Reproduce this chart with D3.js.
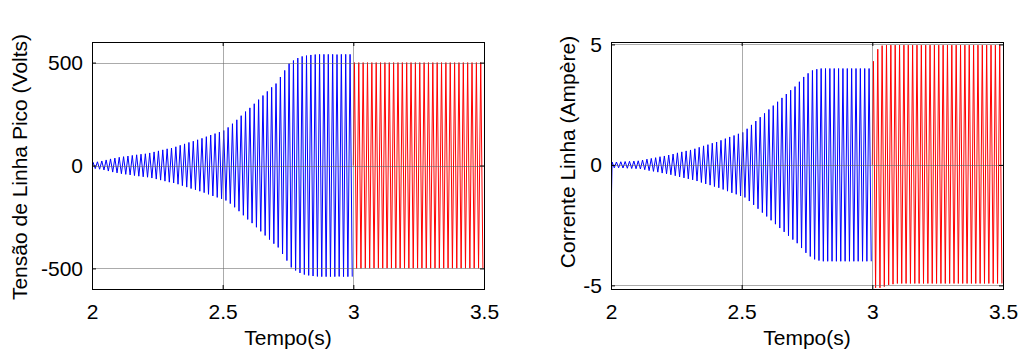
<!DOCTYPE html>
<html>
<head>
<meta charset="utf-8">
<script src="https://cdn.jsdelivr.net/npm/d3@7"></script>
<style>
  body { margin: 0; background: #fff; }
  svg text { font-family: "Liberation Sans", Arial, sans-serif; font-size: 21px; fill: #000; }
</style>
</head>
<body>
<svg id="chart" width="1019" height="353"></svg>
<script>
// peak amplitude of every 60 Hz cycle
const voltsBlue = [15, 18, 22, 27, 32, 36, 40, 43, 46, 49, 52, 55,
  57, 61, 66, 71, 76, 81, 85, 91, 98, 105, 112, 118,
  125, 132, 140, 148, 155, 162, 170, 185, 203, 222, 242, 262,
  280, 300, 320, 340, 360, 380, 398, 430, 462, 495, 510, 522,
  530, 534, 537, 539, 540, 540, 540, 540, 539, 540, 540, 540];
const voltsRedPos = [500, 500, 500, 500, 500, 500, 500, 500, 500, 500,
  500, 500, 500, 500, 500, 500, 500, 500, 500, 500,
  500, 500, 500, 500, 500, 500, 500, 500, 500, 500];
const voltsRedNeg = [500, 500, 499, 499, 499, 499, 499, 499, 499, 499,
  499, 499, 499, 499, 499, 499, 499, 499, 499, 499,
  499, 499, 499, 499, 499, 499, 499, 499, 499, 499];
const voltsStart = [12, -12];

const ampsBlue = [0.12, 0.12, 0.13, 0.14, 0.15, 0.16, 0.17, 0.2, 0.24, 0.27, 0.3, 0.34,
  0.37, 0.41, 0.45, 0.5, 0.54, 0.58, 0.62, 0.67, 0.73, 0.79, 0.84, 0.9,
  0.95, 1.02, 1.09, 1.16, 1.22, 1.29, 1.35, 1.5, 1.66, 1.82, 1.98, 2.14,
  2.3, 2.46, 2.62, 2.78, 2.94, 3.1, 3.25, 3.45, 3.65, 3.8, 3.92, 3.97,
  4.0, 4.0, 4.0, 4.0, 4.0, 4.0, 4.0, 4.0, 4.0, 4.0, 4.0, 4.0];
const ampsRedPos = [4.3, 4.8, 4.95, 4.97, 4.97, 4.97, 4.97, 4.97, 4.97, 4.97,
  4.97, 4.97, 4.97, 4.97, 4.97, 4.97, 4.97, 4.97, 4.97, 4.97,
  4.97, 4.97, 4.97, 4.97, 4.97, 4.97, 4.97, 4.97, 4.97, 4.97];
const ampsRedNeg = [5.1, 5.1, 5.05, 4.98, 4.95, 4.92, 4.92, 4.92, 4.92, 4.92,
  4.92, 4.92, 4.92, 4.92, 4.92, 4.92, 4.92, 4.92, 4.92, 4.92,
  4.92, 4.92, 4.92, 4.92, 4.92, 4.92, 4.92, 4.92, 4.92, 4.92];
const ampsStart = [1.45, -2.28];

const xTicks = [2, 2.5, 3, 3.5];
const xTickLabels = ['2', '2.5', '3', '3.5'];
const voltTicks = [-500, 0, 500];
const voltTickLabels = ['-500', '0', '500'];
const ampTicks = [-5, 0, 5];
const ampTickLabels = ['-5', '0', '5'];
const freq = 60;

const svg = d3.select('#chart');

// turn per-cycle peaks into a polyline: +peak then -peak each cycle
function peaksToPoints(t0, pos, neg, start)
{
  const pts = [];
  if (start) start.forEach(v => pts.push([t0, v]));
  else pts.push([t0, 0]);
  pos.forEach((p, k) => {
    const tc = t0 + k / freq;
    pts.push([tc + 1 / (4 * freq), p]);
    pts.push([tc + 3 / (4 * freq), -neg[k]]);
  });
  return pts;
}

function drawPanel(opt)
{
  const {left, right, top, bottom} = opt;
  const g = svg.append('g');
  const x = d3.scaleLinear().domain([2, 3.5]).range([left, right]);
  const y = d3.scaleLinear().domain(opt.yDomain).range([bottom, top]);

  const clipId = 'clip' + opt.id;
  svg.append('clipPath').attr('id', clipId)
    .append('rect').attr('x', left).attr('y', top)
    .attr('width', right - left).attr('height', bottom - top);

  const line = d3.line().x(d => x(d[0])).y(d => y(d[1]));
  const plot = g.append('g').attr('clip-path', `url(#${clipId})`);

  plot.append('path')
    .attr('d', line(peaksToPoints(2, opt.blue, opt.blue, opt.start)))
    .attr('fill', 'none').attr('stroke', '#0000ff').attr('stroke-width', 1);
  plot.append('path')
    .attr('d', line(peaksToPoints(3, opt.redPos, opt.redNeg, null)))
    .attr('fill', 'none').attr('stroke', '#ff0000').attr('stroke-width', 1);

  // grid on top of the traces, like matlab
  const grid = g.append('g').attr('stroke', '#666').attr('stroke-opacity', 0.55).attr('stroke-width', 1);
  grid.selectAll('.gx').data(xTicks.slice(1, -1)).join('line')
    .attr('x1', d => Math.round(x(d)) + 0.5).attr('x2', d => Math.round(x(d)) + 0.5)
    .attr('y1', top).attr('y2', bottom);
  grid.selectAll('.gy').data(opt.yTicks).join('line')
    .attr('x1', left).attr('x2', right)
    .attr('y1', d => Math.round(y(d)) + 0.5).attr('y2', d => Math.round(y(d)) + 0.5);

  // axes with inward ticks
  const ax = (a, sel) => { sel.call(a); sel.select('.domain').remove(); sel.selectAll('line').attr('stroke', '#000'); };
  ax(d3.axisBottom(x).tickValues(xTicks).tickFormat((d, i) => xTickLabels[i])
      .tickSizeInner(-4).tickSizeOuter(0).tickPadding(15),
     g.append('g').attr('transform', `translate(0,${bottom})`));
  ax(d3.axisTop(x).tickValues(xTicks).tickFormat('').tickSizeInner(-4).tickSizeOuter(0),
     g.append('g').attr('transform', `translate(0,${top})`));
  ax(d3.axisLeft(y).tickValues(opt.yTicks).tickFormat((d, i) => opt.yTickLabels[i])
      .tickSizeInner(-4).tickSizeOuter(0).tickPadding(9),
     g.append('g').attr('transform', `translate(${left},0)`));
  ax(d3.axisRight(y).tickValues(opt.yTicks).tickFormat('').tickSizeInner(-4).tickSizeOuter(0),
     g.append('g').attr('transform', `translate(${right},0)`));
  g.selectAll('.tick text').attr('font-size', null).attr('font-family', null);

  g.append('rect')
    .attr('x', left + 0.5).attr('y', top + 0.5)
    .attr('width', right - left).attr('height', bottom - top)
    .attr('fill', 'none').attr('stroke', '#000').attr('stroke-width', 1);

  g.append('text')
    .attr('x', (left + right) / 2).attr('y', 345)
    .attr('text-anchor', 'middle')
    .text('Tempo(s)');

  g.append('text')
    .attr('transform', `translate(${opt.yLabelX},${opt.yLabelY}) rotate(-90)`)
    .attr('text-anchor', 'middle')
    .text(opt.yLabel);
}

drawPanel({id: 'v', left: 92, right: 484, top: 42, bottom: 289,
  yDomain: [-600, 600], yTicks: voltTicks, yTickLabels: voltTickLabels,
  blue: voltsBlue, redPos: voltsRedPos, redNeg: voltsRedNeg, start: voltsStart,
  yLabel: 'Tensão de Linha Pico (Volts)', yLabelX: 27, yLabelY: 167});

drawPanel({id: 'a', left: 611, right: 1003, top: 42, bottom: 289,
  yDomain: [-5.15, 5.1], yTicks: ampTicks, yTickLabels: ampTickLabels,
  blue: ampsBlue, redPos: ampsRedPos, redNeg: ampsRedNeg, start: ampsStart,
  yLabel: 'Corrente Linha (Ampère)', yLabelX: 575, yLabelY: 152});
</script>
</body>
</html>
